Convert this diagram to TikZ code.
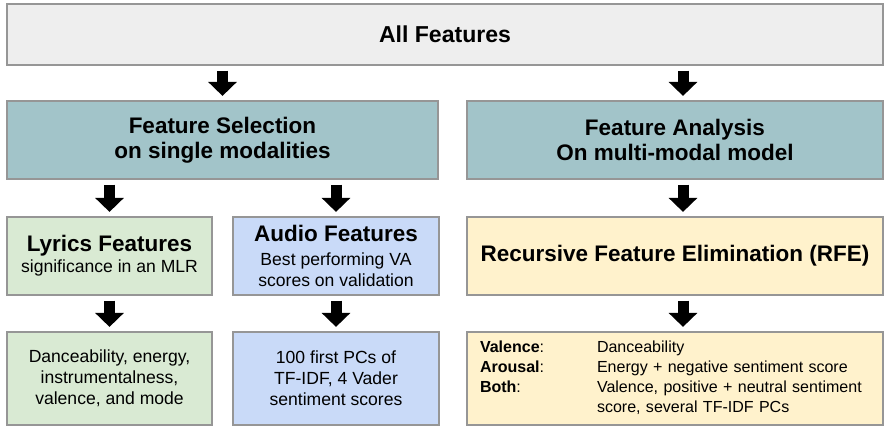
\documentclass[tikz,border=0pt]{standalone}
\usepackage{fontspec}
\setmainfont{Liberation Sans}
\definecolor{frame}{RGB}{150,150,150}
\definecolor{allgray}{RGB}{238,238,238}
\definecolor{main}{RGB}{162,196,201}
\definecolor{second}{RGB}{217,234,211}
\definecolor{third}{RGB}{201,218,248}
\definecolor{fourth}{RGB}{255,242,204}
\usetikzlibrary{
	arrows.meta,
	positioning
}
\newcommand{\csttitle}{\bfseries\fontsize{16}{17.8}\selectfont}
\tikzset{
  % arrow
	cstdarrow/.style  ={-{Triangle[width=0.7cm,length=0.35cm]}, line width=0.275cm, shorten <=0.125cm, shorten >=0.11cm}, % block arrow
  % node
	cstnode/.style    ={draw=frame,line width=1pt,text=black,align=center,inner sep=0pt,font=\fontsize{12.5}{15}\selectfont},
	cstnode0/.style   ={cstnode,fill=allgray,font=\bfseries\fontsize{16.4}{18}\selectfont},
	cstnode1/.style   ={cstnode,fill=main,font=\csttitle},
	cstnode2/.style   ={cstnode,fill=second},
	cstnode3/.style   ={cstnode,fill=third},
	cstnode4/.style   ={cstnode,fill=fourth}
}

\begin{document}
\begin{tikzpicture}
	\useasboundingbox (0,0) rectangle (22.15,-10.7);
	% boxes
	\node[cstnode0,minimum width=21.9cm,minimum height=1.525cm] (all) at (11.125,-0.8625) {All Features};
	\node[cstnode1,minimum width=10.775cm,minimum height=1.95cm] (sel) at (5.5625,-3.5) {Feature Selection\\on single modalities};
	\node[cstnode1,minimum width=10.4cm,minimum height=1.95cm] (ana) at (16.875,-3.5) {Feature Analysis\\On multi-modal model};
	\node[cstnode2,minimum width=5.125cm,minimum height=1.95cm] (lyr) at (2.7375,-6.4) {{\csttitle Lyrics Features}\\significance in an MLR};
	\node[cstnode3,minimum width=5.15cm,minimum height=1.95cm] (aud) at (8.4,-6.4) {{\csttitle Audio Features}\\[2.5pt]Best performing VA\\scores on validation};
	\node[cstnode4,minimum width=10.4cm,minimum height=1.95cm,font=\csttitle] (rfe) at (16.875,-6.4) {Recursive Feature Elimination (RFE)};
	\node[cstnode2,minimum width=5.125cm,minimum height=2.325cm] (lyrout) at (2.7375,-9.4625) {Danceability, energy,\\instrumentalness,\\valence, and mode};
	\node[cstnode3,minimum width=5.15cm,minimum height=2.325cm] (audout) at (8.4,-9.4625) {100 first PCs of\\TF-IDF, 4 Vader\\sentiment scores};
	\node[cstnode4,minimum width=10.4cm,minimum height=2.325cm,inner xsep=0.325cm,text width=9.75cm,align=left,font=\fontsize{11.4}{14.2}\selectfont] (rfeout) at (16.875,-9.4625) {%
		\begin{tabular}{@{}p{2.925cm}@{}l@{}}
			\textbf{Valence}: & Danceability\\
			\textbf{Arousal}: & Energy + negative sentiment score\\
			\textbf{Both}: & Valence, positive + neutral sentiment\\
			& score, several TF-IDF PCs
		\end{tabular}};
	% arrows
	\coordinate (rcol) at (17.075,0);
	\draw[cstdarrow] (all.south -| sel.north) -- (sel.north);
	\draw[cstdarrow] (all.south -| rcol) -- (ana.north -| rcol);
	\draw[cstdarrow] (sel.south -| lyr.north) -- (lyr.north);
	\draw[cstdarrow] (sel.south -| aud.north) -- (aud.north);
	\draw[cstdarrow] (ana.south -| rcol) -- (rfe.north -| rcol);
	\draw[cstdarrow] (lyr.south) -- (lyrout.north);
	\draw[cstdarrow] (aud.south) -- (audout.north);
	\draw[cstdarrow] (rfe.south -| rcol) -- (rfeout.north -| rcol);
\end{tikzpicture}
\end{document}
